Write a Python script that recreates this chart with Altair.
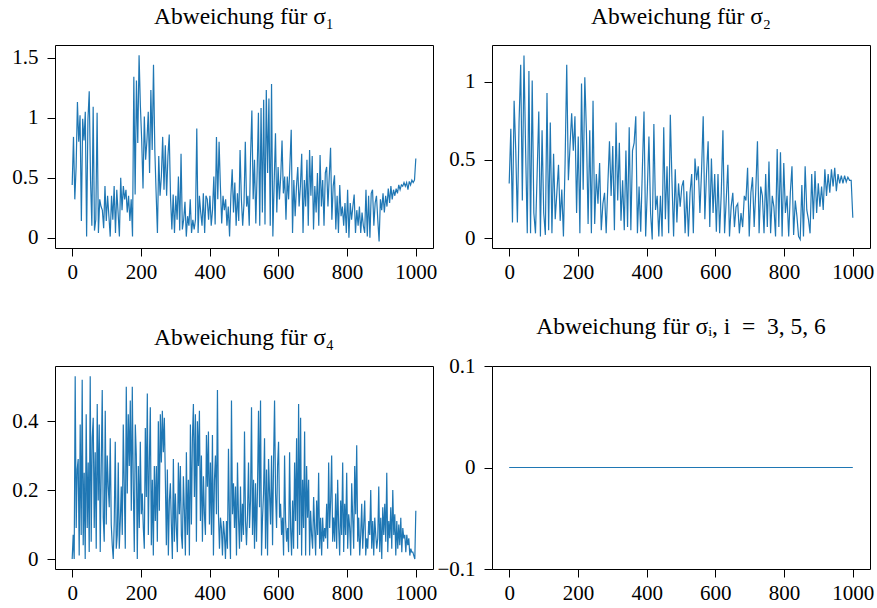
import altair as alt
import numpy as np
import pandas as pd

# Deviation per simulation step (0 ... 1000) for each sigma component
sigma_1 = [
    0.44, 0.84, 0.32, 0.59, 1.13, 0.80, 1.02, 0.14, 0.99, 0.81, 1.05, 0.01, 0.98, 1.22, 0.48, 0.10,
    1.09, 0.06, 0.15, 1.04, 0.04, 0.32, 0.26, 0.23, 0.08, 0.43, 0.14, 0.35, 0.18, 0.01, 0.35, 0.15,
    0.43, 0.04, 0.40, 0.21, 0.01, 0.50, 0.23, 0.43, 0.32, 0.40, 0.21, 0.35, 0.14, 0.32, 0.01, 1.34,
    0.36, 1.31, 0.79, 1.52, 1.10, 0.81, 0.41, 1.01, 0.65, 0.81, 1.05, 0.54, 1.23, 0.73, 1.44, 0.73,
    0.37, 0.04, 0.68, 0.35, 0.51, 0.84, 0.40, 0.77, 0.35, 0.68, 0.86, 0.33, 0.07, 0.36, 0.04, 0.35,
    0.15, 0.51, 0.06, 0.70, 0.07, 0.15, 0.30, 0.01, 0.18, 0.10, 0.32, 0.04, 0.15, 0.07, 0.15, 0.91,
    0.04, 0.35, 0.21, 0.10, 0.37, 0.04, 0.35, 0.32, 0.15, 0.35, 0.10, 0.23, 0.51, 0.11, 0.84, 0.32,
    0.80, 0.43, 0.12, 0.35, 0.23, 0.32, 0.10, 0.26, 0.01, 0.35, 0.57, 0.21, 0.46, 0.10, 0.37, 0.14,
    0.73, 0.32, 0.10, 0.29, 0.80, 0.26, 0.35,
    0.10, 0.68, 1.06, 0.32, 0.65, 0.12, 0.54, 1.04, 0.10, 1.08, 0.21, 1.15, 0.11, 1.23, 0.54, 1.16,
    0.10, 1.28, 0.01, 0.46, 0.87, 0.21, 0.59, 0.32, 0.51, 0.81, 0.37, 0.51, 0.15, 0.51, 0.32, 0.61,
    0.90, 0.04, 0.48, 0.18, 0.43, 0.59, 0.26, 0.43, 0.70, 0.04, 0.48, 0.26, 0.65, 0.10, 0.73, 0.35,
    0.68, 0.07, 0.43, 0.21, 0.54, 0.10, 0.69, 0.26, 0.48, 0.10, 0.54, 0.59, 0.26, 0.51, 0.75, 0.15,
    0.43, 0.52, 0.07, 0.35, 0.04, 0.44, 0.18, 0.26, 0.10, 0.29, 0.04, 0.40, 0.00, 0.29, 0.15, 0.26,
    0.36, 0.04, 0.23, 0.10, 0.26, 0.04, 0.21, 0.10, 0.04, 0.40, 0.01, 0.35, 0.00, 0.37, 0.40, 0.10,
    0.29, 0.35, 0.15, -0.03, 0.32, 0.23, 0.37, 0.21, 0.35, 0.26, 0.41, 0.29, 0.43, 0.32, 0.40, 0.35,
    0.41, 0.37, 0.44, 0.40, 0.44, 0.43, 0.46, 0.43, 0.46, 0.40, 0.47, 0.44, 0.48, 0.46, 0.48, 0.66,
]

sigma_2 = [
    0.35, 0.70, 0.10, 0.88, 0.56, 0.10, 0.74, 1.11, 0.24, 1.17, 0.56, 0.03, 1.07, 0.03, 1.01, 0.16,
    0.03, 0.41, 0.81, 0.01, 0.69, 0.16, 0.02, 0.93, 0.05, 0.74, 0.03, 0.54, 0.12, 0.29, 0.47, 0.11,
    0.31, 0.01, 0.48, 1.11, 0.37, 0.59, 0.80, 0.56, 0.78, 0.16, 0.65, 0.03, 0.99, 0.31, 1.03, 0.67,
    0.09, 0.69, 0.03, 0.88, 0.09, 0.41, 0.22, 0.48, 0.05, 0.22, 0.29, 0.03, 0.34, 0.62, 0.27, 0.59,
    0.05, 0.74, 0.24, 0.61, 0.11, 0.37, 0.05, 0.56, 0.07, 0.71, 0.05, 0.56, 0.61, 0.78, 0.03, 0.33,
    0.04, 0.44, 0.81, 0.01, 0.30, 0.65, 0.16, -0.01, 0.73, 0.18, 0.27, 0.01, 0.27, 0.01, 0.71, 0.12,
    0.46, 0.03, 0.79, 0.37, 0.01, 0.44, 0.10, 0.35, 0.20, 0.33,
    0.37, 0.03, 0.30, 0.01, 0.29, 0.41, 0.03, 0.51, 0.37, 0.46, 0.16, 0.43, 0.78, 0.12, 0.41, 0.62,
    0.07, 0.51, 0.16, 0.41, 0.04, 0.41, 0.03, 0.29, 0.69, 0.03, 0.24, 0.47, 0.01, 0.20, 0.29, 0.07,
    0.20, 0.22, 0.03, 0.16, 0.07, 0.27, 0.24, 0.45, 0.01, 0.29, 0.39, 0.07, 0.31, 0.62, 0.03, 0.33,
    0.27, 0.03, 0.41, 0.07, 0.49, 0.03, 0.27, 0.20, 0.01, 0.57, 0.07, 0.55, 0.01, 0.48, 0.16, 0.27,
    0.01, 0.29, 0.46, 0.02, 0.24, 0.14, 0.01, -0.01, 0.34, 0.01, 0.46, 0.18, 0.12, 0.03, 0.41, 0.12,
    0.43, 0.16, 0.35, 0.20, 0.33, 0.18, 0.44, 0.27, 0.41, 0.29, 0.44, 0.33, 0.45, 0.30, 0.41, 0.35,
    0.40, 0.35, 0.40, 0.36, 0.39, 0.37, 0.37, 0.13,
]

sigma_4 = [
    0.00, 0.07, 0.00, 0.53, 0.09, 0.26, 0.29, 0.01, 0.39, 0.07, 0.52, 0.04, 0.25, 0.00, 0.42, 0.09,
    0.28, 0.02, 0.53, 0.05, 0.35, 0.41, 0.09, 0.31, 0.03, 0.45, 0.17, 0.39, 0.02, 0.27, 0.49, 0.12,
    0.05, 0.43, 0.10, 0.30, 0.21, 0.15, 0.35, 0.10, 0.04, 0.00, 0.11, 0.34, 0.03, 0.07, 0.28, 0.03,
    0.11, 0.21, 0.07, 0.39, 0.21, 0.03, 0.50, 0.19, 0.42, 0.27, 0.46, 0.14, 0.50, 0.21, 0.02, 0.39,
    0.30, 0.00, 0.27, 0.09, 0.34, 0.13, 0.19, 0.09, 0.03, 0.38, 0.18, 0.48, 0.07, 0.28, 0.44, 0.04,
    0.23, 0.01, 0.27, 0.11, 0.27, 0.05, 0.40, 0.14, 0.42, 0.28, 0.43, 0.31, 0.41, 0.23, 0.04, 0.26,
    0.01, 0.17, 0.22, 0.10, 0.00, 0.29, 0.05, 0.19, 0.09, 0.02, 0.28, 0.13, 0.27, 0.07, 0.03, 0.24,
    0.14, 0.01, 0.31, 0.07, 0.23, 0.01, 0.39, 0.10, 0.35, 0.45, 0.18, 0.42, 0.05, 0.40, 0.27, 0.43,
    0.11, 0.30, 0.05, 0.24, 0.13, 0.07, 0.36, 0.21, 0.37, 0.10, 0.28, 0.07, 0.36, 0.01, 0.23, 0.30,
    0.13, 0.49, 0.13, 0.03, 0.12, 0.09, 0.01, 0.11, 0.07, 0.00, 0.11, 0.03, 0.32, 0.11, 0.00, 0.46,
    0.13, 0.22, 0.09, 0.21, 0.01, 0.28, 0.12, 0.03, 0.21, 0.05, 0.16, 0.07, 0.37, 0.11, 0.04,
    0.13, 0.28, 0.09, 0.17, 0.44, 0.07, 0.23, 0.03, 0.22, 0.05, 0.21, 0.43, 0.15, 0.46, 0.01, 0.12,
    0.19, 0.35, 0.03, 0.26, 0.01, 0.29, 0.19, 0.10, 0.30, 0.04, 0.28, 0.46, 0.19, 0.09, 0.27, 0.34,
    0.12, 0.16, 0.07, 0.12, 0.01, 0.30, 0.11, 0.05, 0.09, 0.02, 0.31, 0.09, 0.01, 0.17, 0.03, 0.28,
    0.11, 0.35, 0.03, 0.45, 0.07, 0.41, 0.01, 0.23, 0.09, 0.37, 0.01, 0.27, 0.12, 0.23, 0.01, 0.14,
    0.07, 0.03, 0.18, 0.09, 0.01, 0.17, 0.07, 0.25, 0.03, 0.12, 0.01, 0.12, 0.05, 0.09, 0.06, 0.16,
    0.03, 0.28, 0.09, 0.17, 0.30, 0.05, 0.12, 0.05, 0.19, 0.03, 0.23, 0.09, 0.01, 0.17, 0.07, 0.28,
    0.02, 0.16, 0.07, 0.25, 0.03, 0.13, 0.09, 0.01, 0.22, 0.12, 0.03, 0.27, 0.13, 0.33, 0.05, 0.12,
    0.01, 0.07, 0.16, 0.03, 0.10, 0.17, 0.01, 0.06, 0.03, 0.11, 0.07, 0.20, 0.03, 0.11, 0.01, 0.12,
    0.07, 0.03, 0.06, 0.21, 0.02, 0.12, 0.00, 0.15, 0.07, 0.16, 0.05, 0.25, 0.02, 0.11, 0.06, 0.15,
    0.03, 0.20, 0.07, 0.13, 0.01, 0.11, 0.03, 0.10, 0.04, 0.12, 0.02, 0.09, 0.06, 0.07, 0.02, 0.07,
    0.04, 0.06, 0.01, 0.03, 0.02, 0.02, 0.01, 0.00, 0.14,
]

# sigma_3, sigma_5 and sigma_6 stay exactly at zero
sigma_rest = [0.0, 0.0]

x_ticks = [0, 200, 400, 600, 800, 1000]
BLUE = "#1f77b4"
SERIF = "Liberation Serif"


def panel(values, title, y_domain, y_ticks):
    df = pd.DataFrame({"schritt": np.linspace(0, 1000, len(values)), "abweichung": values})
    return (
        alt.Chart(df, title=title)
        .mark_line(color=BLUE, strokeWidth=1.2, clip=True)
        .encode(
            x=alt.X(
                "schritt:Q",
                scale=alt.Scale(domain=[-50, 1050], nice=False, zero=False),
                axis=alt.Axis(values=x_ticks, title=None, format="d"),
            ),
            y=alt.Y(
                "abweichung:Q",
                scale=alt.Scale(domain=y_domain, nice=False, zero=False),
                axis=alt.Axis(values=y_ticks, title=None, format="~g"),
            ),
        )
        .properties(width=378, height=203)
    )


p1 = panel(sigma_1, "Abweichung für σ₁", [-0.085, 1.605], [0, 0.5, 1, 1.5])
p2 = panel(sigma_2, "Abweichung für σ₂", [-0.064, 1.237], [0, 0.5, 1])
p3 = panel(sigma_4, "Abweichung für σ₄", [-0.029, 0.56], [0, 0.2, 0.4])
p4 = panel(sigma_rest, "Abweichung für σᵢ, i\u2002=\u20023, 5, 6", [-0.1, 0.1], [-0.1, 0, 0.1])

chart = (
    alt.vconcat(
        alt.hconcat(p1, p2, spacing=10),
        # the wider "−0.1" label on the right panel needs a smaller gap here
        alt.hconcat(p3, p4, spacing=-2),
        spacing=31,
    )
    .properties(
        padding={"left": 11, "top": 4, "right": 0, "bottom": 0},
        background="white",
    )
    .configure_view(stroke="#000000", strokeWidth=1)
    .configure_axis(
        domain=False,
        grid=False,
        ticks=True,
        tickColor="#000000",
        tickSize=8,
        tickWidth=1,
        labelFont=SERIF,
        labelFontSize=21,
        labelColor="#000000",
    )
    .configure_axisX(labelPadding=5)
    .configure_axisY(labelPadding=9)
    .configure_title(
        font=SERIF,
        fontSize=23.5,
        fontWeight="normal",
        color="#000000",
        anchor="middle",
        offset=17,
    )
)

chart.save("out.html", embed_options={"renderer": "svg", "actions": False})
